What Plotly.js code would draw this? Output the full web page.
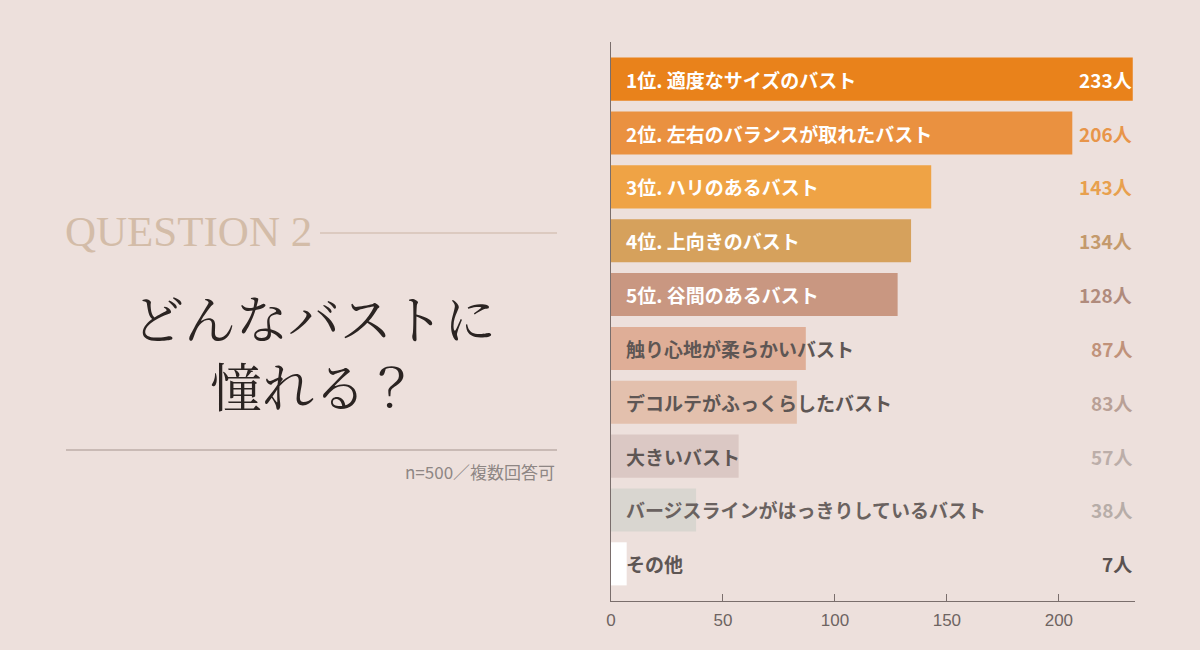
<!DOCTYPE html>
<html>
<head>
<meta charset="utf-8">
<script src="https://cdn.plot.ly/plotly-3.0.1.min.js"></script>
<style>
  body { margin: 0; background: #ede0dc; }
  #chart { width: 1200px; height: 650px; }
</style>
</head>
<body>
<div id="chart"></div>
<script>
// 項目（上から順）
let labels = [
  "1位. 適度なサイズのバスト",
  "2位. 左右のバランスが取れたバスト",
  "3位. ハリのあるバスト",
  "4位. 上向きのバスト",
  "5位. 谷間のあるバスト",
  "触り心地が柔らかいバスト",
  "デコルテがふっくらしたバスト",
  "大きいバスト",
  "バージスラインがはっきりしているバスト",
  "その他"
];
let counts = [233, 206, 143, 134, 128, 87, 83, 57, 38, 7];
let tickVals = [0, 50, 100, 150, 200];

let barColors = ["#e9821b", "#ea9140", "#efa345", "#d6a15c", "#c99781",
                 "#dfae97", "#e3c0ad", "#dbc8c4", "#d9d6d0", "#ffffff"];
let labelColors = ["#ffffff", "#ffffff", "#ffffff", "#ffffff", "#ffffff",
                   "#5e5654", "#5e5654", "#5e5654", "#6a6260", "#5e5654"];
let valueColors = ["#ffffff", "#e8954a", "#e8a04e", "#c49a6c", "#b08b7c",
                   "#c0927a", "#b9a096", "#bcaea9", "#b7ada8", "#5a5250"];

let jp = '"Noto Sans CJK JP", "Noto Sans", sans-serif';

let trace = {
  type: "bar",
  orientation: "h",
  y: labels,
  x: counts,
  width: 0.8,
  marker: { color: barColors },
  hoverinfo: "skip",
};

let annotations = [];

// バー内の項目名
labels.forEach((lab, i) => {
  annotations.push({
    x: 0, y: lab, xref: "x", yref: "y",
    xanchor: "left", xshift: 13,
    text: "<b>" + lab + "</b>",
    showarrow: false,
    font: { family: jp, size: 19, color: labelColors[i] },
  });
});

// 右端の人数
counts.forEach((v, i) => {
  annotations.push({
    x: 1134 / 1200, y: labels[i], xref: "paper", yref: "y",
    xanchor: "right",
    text: "<b>" + v + "人</b>",
    showarrow: false,
    font: { family: jp, size: 19, color: valueColors[i] },
  });
});

// 左側の見出し
annotations.push({
  x: 63 / 1200, y: 1 - 232 / 650, xref: "paper", yref: "paper",
  xanchor: "left", yanchor: "middle",
  text: "QUESTION 2",
  showarrow: false,
  font: { family: '"Liberation Serif", "DejaVu Serif", serif', size: 43, color: "#d3bca8" },
});
annotations.push({
  x: 314 / 1200, y: 1 - 350 / 650, xref: "paper", yref: "paper",
  xanchor: "center", yanchor: "middle",
  text: "どんなバストに<br>憧れる？",
  align: "center",
  showarrow: false,
  font: { family: '"Noto Serif CJK JP", "Noto Sans CJK JP", serif', size: 52, color: "#2b2422" },
});
annotations.push({
  x: 557 / 1200, y: 1 - 471 / 650, xref: "paper", yref: "paper",
  xanchor: "right", yanchor: "middle",
  text: "n=500／複数回答可",
  showarrow: false,
  font: { family: jp, size: 17, color: "#8e8684" },
});

let layout = {
  width: 1200,
  height: 650,
  margin: { l: 0, r: 0, t: 0, b: 0 },
  paper_bgcolor: "#ede0dc",
  plot_bgcolor: "rgba(0,0,0,0)",
  showlegend: false,
  xaxis: {
    domain: [611 / 1200, 1135 / 1200],
    range: [0, 234],
    tickvals: tickVals,
    ticks: "inside",
    ticklen: 7,
    tickcolor: "#7a6e6c",
    ticklabelstandoff: 4,
    showline: true,
    linecolor: "#7a6e6c",
    linewidth: 1,
    showgrid: false,
    zeroline: false,
    tickfont: { family: '"Liberation Sans", Arial, sans-serif', size: 17, color: "#6e6462" },
    fixedrange: true,
  },
  yaxis: {
    domain: [1 - 601 / 650, 1 - 42 / 650],
    type: "category",
    categoryorder: "array",
    categoryarray: labels,
    range: [9.69, -0.69],
    showticklabels: false,
    ticks: "",
    showline: true,
    linecolor: "#7a6e6c",
    linewidth: 1,
    showgrid: false,
    zeroline: false,
    fixedrange: true,
  },
  shapes: [
    { type: "line", xref: "paper", yref: "paper",
      x0: 320 / 1200, x1: 557 / 1200, y0: 1 - 233 / 650, y1: 1 - 233 / 650,
      line: { color: "#cbb3a3", width: 1.2 } },
    { type: "line", xref: "paper", yref: "paper",
      x0: 66 / 1200, x1: 557 / 1200, y0: 1 - 450 / 650, y1: 1 - 450 / 650,
      line: { color: "#bcaea9", width: 1.5 } },
  ],
  annotations: annotations,
};

Plotly.newPlot("chart", [trace], layout, { displayModeBar: false, staticPlot: true });
</script>
</body>
</html>
